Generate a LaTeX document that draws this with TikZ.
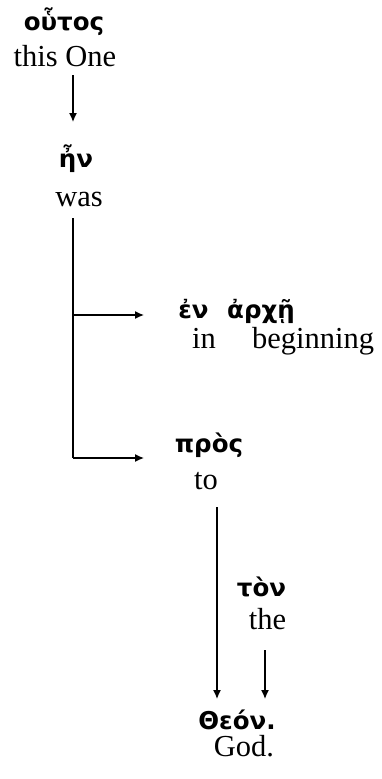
\documentclass[tikz,border=0pt]{standalone}
\usepackage{fontspec}
\setmainfont{Liberation Serif}
\newfontfamily\grk{DejaVu Sans}
\usetikzlibrary{arrows.meta}
\tikzset{
  eng/.style={anchor=base, inner sep=0pt, font=\fontsize{30.5}{34}\selectfont},
  gr/.style={anchor=base, inner sep=0pt, font=\grk\bfseries\fontsize{24.5}{28}\selectfont},
  arr/.style={line width=1.3pt, -{Latex[length=9pt,width=8pt]}},
  ln/.style={line width=1.3pt}
}
\begin{document}
\begin{tikzpicture}[x=1pt,y=-1pt]
\useasboundingbox (0,0) rectangle (381,779);
% words
\node[gr]  (houtos) at (64,30)    {οὗτος};
\node[eng] (thisone) at (65,66.5) {this One};
\node[gr]  (en) at (76,167)      {ἦν};
\node[eng] (was) at (79,206.5)    {was};
\node[gr]  (enprep) at (193.5,318) {ἐν};
\node[gr]  (arche) at (261,318)  {ἀρχῇ};
\node[eng] (in) at (204,348)    {in};
\node[eng] (beginning) at (313,348) {beginning};
\node[gr]  (pros) at (209,452)   {πρὸς};
\node[eng] (to) at (206,489)      {to};
\node[gr]  (ton) at (261.5,596)  {τὸν};
\node[eng] (the) at (267.5,629.5) {the};
\node[gr]  (theon) at (237,729)  {Θεόν.};
\node[eng] (god) at (244,756)     {God.};
% connector points
\coordinate (a0s) at (73,75);
\coordinate (a0e) at (73,122);
\coordinate (vtop) at (73,218);
\coordinate (vmid) at (73,315);
\coordinate (vbot) at (73,458);
\coordinate (b1e) at (144,315);
\coordinate (b2e) at (144,458);
\coordinate (c1s) at (217,507);
\coordinate (c1e) at (217,699);
\coordinate (c2s) at (265,650);
\coordinate (c2e) at (265,699);
% connectors
\draw[arr] (a0s) -- (a0e);
\draw[ln] (vtop) -- (vbot);
\draw[arr] (vmid) -- (b1e);
\draw[arr] (vbot) -- (b2e);
\draw[arr] (c1s) -- (c1e);
\draw[arr] (c2s) -- (c2e);
\end{tikzpicture}
\end{document}
